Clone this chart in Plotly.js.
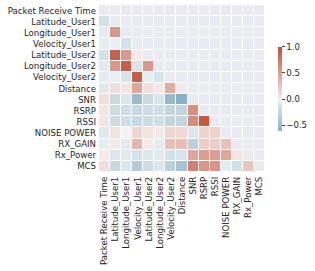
<!DOCTYPE html>
<html><head><meta charset="utf-8">
<script src="https://cdn.plot.ly/plotly-3.0.1.min.js"></script>
<style>html,body{margin:0;padding:0;background:#fff}#c{width:315px;height:271px}</style>
</head><body><div id="c"></div>
<script>
const labels = ["Packet Receive Time","Latitude_User1","Longitude_User1","Velocity_User1","Latitude_User2","Longitude_User2","Velocity_User2","Distance","SNR","RSRP","RSSI","NOISE POWER","RX_GAIN","Rx_Power","MCS"];
// lower-triangle correlation values, row i holds columns 0..i-1
const rowLatitudeUser1  = [-0.15];
const rowLongitudeUser1 = [-0.05, 0.55];
const rowVelocityUser1  = [-0.04, -0.02, -0.15];
const rowLatitudeUser2  = [-0.15, 0.90, 0.55, 0.01];
const rowLongitudeUser2 = [-0.07, 0.55, 0.92, -0.12, 0.55];
const rowVelocityUser2  = [-0.05, -0.02, -0.12, 0.92, -0.03, -0.12];
const rowDistance       = [-0.08, 0.10, 0.04, 0.45, 0.10, 0.03, 0.42];
const rowSNR            = [0.10, -0.22, -0.10, -0.50, -0.22, -0.12, -0.52, -0.60];
const rowRSRP           = [0.05, -0.20, -0.17, -0.22, -0.20, -0.17, -0.25, -0.25, 0.60];
const rowRSSI           = [0.05, -0.20, -0.17, -0.22, -0.20, -0.17, -0.25, -0.25, 0.62, 0.95];
const rowNoisePower     = [-0.08, 0.07, 0.00, 0.15, 0.07, 0.02, 0.15, 0.13, -0.10, 0.17, 0.17];
const rowRxGain         = [-0.05, 0.03, -0.07, 0.35, 0.03, -0.05, 0.30, 0.30, -0.30, 0.20, 0.20, 0.28];
const rowRxPower        = [0.02, -0.10, -0.08, -0.15, -0.10, -0.08, -0.15, -0.12, 0.45, 0.50, 0.50, 0.45, 0.05];
const rowMCS            = [0.10, -0.22, -0.10, -0.35, -0.20, -0.10, -0.30, -0.42, 0.70, 0.55, 0.55, -0.05, -0.15, 0.25];
const cbTicks = [-0.5, 0, 0.5, 1];

const lower = [[], rowLatitudeUser1, rowLongitudeUser1, rowVelocityUser1, rowLatitudeUser2, rowLongitudeUser2, rowVelocityUser2, rowDistance, rowSNR, rowRSRP, rowRSSI, rowNoisePower, rowRxGain, rowRxPower, rowMCS];
const z = lower.map(r => labels.map((_, j) => j < r.length ? r[j] : null));
const bg = labels.map(() => labels.map(() => 1));

// seaborn diverging_palette(230, 20) approximation, centered at 0
const blue = [72,133,163], lb = [235,241,244], gray = [242,242,242], lr = [247,236,234], red = [195,80,55];
function mix(a,b,t){return a.map((v,i)=>Math.round(v+(b[i]-v)*t));}
function cmap(v){
  if (v <= -0.004) return mix(blue, lb, (v+1)/0.996);
  if (v < 0) return mix(lb, gray, (v+0.004)/0.004);
  if (v < 0.004) return mix(gray, lr, v/0.004);
  return mix(lr, red, (v-0.004)/0.996);
}
const flat = z.flat().filter(v => v !== null);
const zmin = Math.min(...flat), zmax = 1;
const stopVals = [zmin, -0.004, 0, 0.004, zmax];
const colorscale = stopVals.map(v => [(v-zmin)/(zmax-zmin), 'rgb(' + cmap(v).join(',') + ')']);

const font = {family: 'DejaVu Sans', size: 8.6, color: '#262626'};
Plotly.newPlot('c', [
  {type:'heatmap', x: labels, y: labels, z: bg, colorscale: [[0,'#eaeaf2'],[1,'#eaeaf2']], showscale:false, xgap:1, ygap:1, hoverinfo:'skip'},
  {type:'heatmap', x: labels, y: labels, z: z, zmin: zmin, zmax: zmax, colorscale: colorscale, xgap:1, ygap:1,
   colorbar:{x:1.078, xanchor:'left', y:0.5, yanchor:'middle', len:0.5, lenmode:'fraction', thickness:4, outlinewidth:0,
     ticks:'outside', ticklen:3, tickwidth:1, tickcolor:'#444', tickvals: cbTicks, tickformat:'.1f', tickfont: font, xpad:0, ypad:0}}
], {
  width:315, height:271,
  margin:{l:99, r:50, t:5, b:99},
  paper_bgcolor:'#fff', plot_bgcolor:'#fff',
  font: font,
  xaxis:{type:'category', tickangle:-90, showgrid:false, zeroline:false, ticks:'', tickfont:font, ticklabelstandoff:2, automargin:false},
  yaxis:{type:'category', autorange:'reversed', showgrid:false, zeroline:false, ticks:'', tickfont:font, ticklabelstandoff:2, automargin:false},
  showlegend:false
}, {staticPlot:true, displayModeBar:false});
</script></body></html>
